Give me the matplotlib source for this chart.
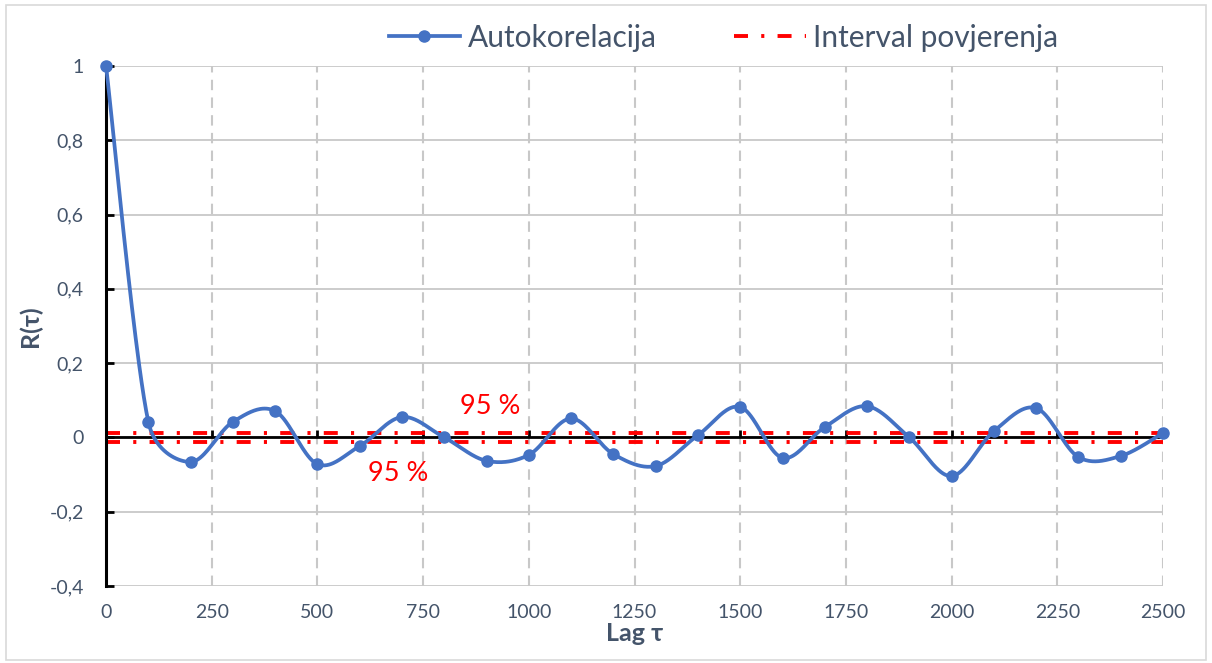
import numpy as np
import matplotlib
matplotlib.use("Agg")
import matplotlib.pyplot as plt
from matplotlib.patches import Rectangle

plt.rcParams["font.family"] = ["Lato", "DejaVu Sans"]

# --- data ---
lags = [0, 100, 200, 300, 400, 500, 600, 700, 800, 900, 1000, 1100, 1200,
        1300, 1400, 1500, 1600, 1700, 1800, 1900, 2000, 2100, 2200, 2300,
        2400, 2500]
autocorr = [1.0, 0.042, -0.066, 0.042, 0.071, -0.072, -0.023, 0.055, 0.0,
            -0.063, -0.047, 0.051, -0.045, -0.077, 0.006, 0.082, -0.055,
            0.028, 0.084, 0.0, -0.104, 0.017, 0.079, -0.053, -0.050, 0.012]
conf_level = 0.013
conf_text = "95 %"

x_ticks = [0, 250, 500, 750, 1000, 1250, 1500, 1750, 2000, 2250, 2500]
y_ticks = [-0.4, -0.2, 0, 0.2, 0.4, 0.6, 0.8, 1]
y_labels = ["-0,4", "-0,2", "0", "0,2", "0,4", "0,6", "0,8", "1"]

label_color = "#44546A"
blue = "#4472C4"


def ctrl(a, b, seg_len):
    # tangent (b - a) / 6, capped at half the segment length (screen space)
    v = (b - a) / 6
    L = np.hypot(*v)
    cap = 0.5 * seg_len
    if L > cap and L > 0:
        v = v * cap / L
    return v


def smooth(ax, xs, ys, n=40):
    # Excel-like smoothed line drawn as Bezier segments through the points
    p = ax.transData.transform(np.column_stack([xs, ys]))
    p = np.vstack([p[0], p, p[-1]])
    out = []
    t = np.linspace(0, 1, n, endpoint=False)[:, None]
    for i in range(1, len(p) - 2):
        p0, p1, p2, p3 = p[i - 1], p[i], p[i + 1], p[i + 2]
        d12 = np.hypot(*(p2 - p1))
        c1 = p1 + ctrl(p0, p2, d12)
        c2 = p2 - ctrl(p1, p3, d12)
        seg = ((1 - t) ** 3 * p1 + 3 * (1 - t) ** 2 * t * c1
               + 3 * (1 - t) * t ** 2 * c2 + t ** 3 * p2)
        out.append(seg)
    out.append(p[-2][None, :])
    out = ax.transData.inverted().transform(np.vstack(out))
    return out[:, 0], out[:, 1]


fig = plt.figure(figsize=(12.12, 6.63), dpi=100)
ax = fig.add_axes([0.0875, 0.1161, 0.8721, 0.7844])

ax.set_xlim(x_ticks[0], x_ticks[-1])
ax.set_ylim(y_ticks[0], y_ticks[-1])

# grid
for yv in y_ticks:
    ax.axhline(yv, color="#C8C8C8", lw=1.3, zorder=0)
for xv in x_ticks[1:]:
    ax.axvline(xv, color="#C8C8C8", lw=1.5, ls=(0, (5, 3.5)), zorder=0)

# confidence interval
dash = (0, (3.6, 3.4, 0.8, 3.4))
ax.axhline(conf_level, color="red", lw=2.8, ls=dash, zorder=2)
ax.axhline(-conf_level, color="red", lw=2.8, ls=dash, zorder=2)

# zero line with tick marks
ax.axhline(0, color="black", lw=2, zorder=1.5)
zero_pos = (0 - y_ticks[0]) / (y_ticks[-1] - y_ticks[0])
sec = ax.secondary_xaxis(zero_pos)
sec.set_xticks(x_ticks)
sec.tick_params(direction="in", length=5, width=2, color="black",
                labelbottom=False, labeltop=False, top=False, bottom=True)
sec.spines["bottom"].set_visible(False)
sec.spines["top"].set_visible(False)

# autocorrelation
sx, sy = smooth(ax, lags, autocorr)
ax.plot(sx, sy, color=blue, lw=2.7, zorder=6, solid_capstyle="round",
        clip_on=False)
ax.plot(lags, autocorr, "o", color=blue, ms=8, zorder=7, clip_on=False)

# legend handles
ax.plot([], [], color=blue, lw=2.7, marker="o", ms=8, label="Autokorelacija")
ax.plot([], [], color="red", lw=2.8, ls=dash, label="Interval povjerenja")

ax.text(837, 0.082, conf_text, color="red", fontsize=19.5, va="center", ha="left")
ax.text(620, -0.097, conf_text, color="red", fontsize=19.5, va="center", ha="left")

# axes styling
for s in ["top", "right", "bottom"]:
    ax.spines[s].set_visible(False)
ax.spines["left"].set_color("black")
ax.spines["left"].set_linewidth(2.2)
ax.spines["left"].set_zorder(5)

ax.set_yticks(y_ticks)
ax.set_yticklabels(y_labels)
ax.set_xticks(x_ticks)
ax.set_xticklabels([str(v) for v in x_ticks])
ax.tick_params(axis="y", direction="in", length=6, width=2, color="black",
               labelsize=14, labelcolor=label_color, pad=16)
ax.tick_params(axis="x", length=0, labelsize=14, labelcolor=label_color, pad=13)

ax.set_xlabel("Lag τ", fontsize=18, fontweight="bold", color=label_color,
              labelpad=1)
ax.set_ylabel("R(τ)", fontsize=18, fontweight="bold", color=label_color,
              labelpad=5)

handles, labels = ax.get_legend_handles_labels()
fig.legend(handles[-2:], labels[-2:], loc="center", ncol=2,
           bbox_to_anchor=(0.597, 0.943), frameon=False, fontsize=21.5,
           labelcolor=label_color, handlelength=2.4, columnspacing=2.6,
           handletextpad=0.25)

fig.patches.append(Rectangle((0.005, 0.005), 0.99, 0.987, transform=fig.transFigure,
                             fill=False, edgecolor="#D9D9D9", lw=1.2))

fig.savefig("out.png", dpi=100)
